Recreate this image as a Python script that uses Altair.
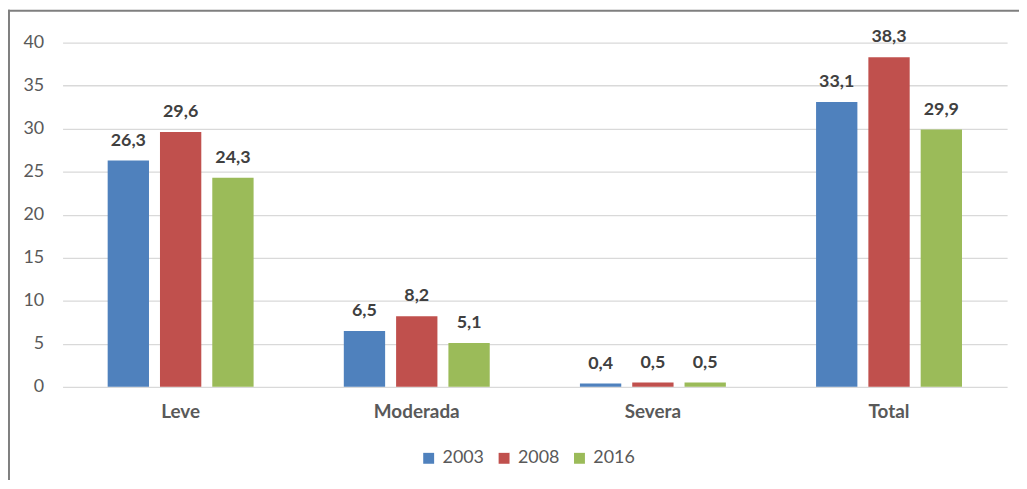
import altair as alt
import pandas as pd

categories = ["Leve", "Moderada", "Severa", "Total"]
years = ["2003", "2008", "2016"]
v2003 = [26.3, 6.5, 0.4, 33.1]
v2008 = [29.6, 8.2, 0.5, 38.3]
v2016 = [24.3, 5.1, 0.5, 29.9]
colors = ["#4F81BD", "#C0504D", "#9BBB59"]

rows = []
for yr, vals in zip(years, [v2003, v2008, v2016]):
    for c, v in zip(categories, vals):
        rows.append({"cat": c, "year": yr, "value": v,
                     "label": f"{v:.1f}".replace(".", ",")})
df = pd.DataFrame(rows)

W, H = 952, 347
FONT = "Lato"

base = alt.Chart(df).encode(
    x=alt.X("cat:N", sort=categories, title=None,
            scale=alt.Scale(paddingInner=0.382, paddingOuter=0.191),
            axis=alt.Axis(labelAngle=0, labelFontSize=19, labelFontWeight="bold",
                          labelColor="#595959", labelFont=FONT, labelPadding=16,
                          ticks=False, domain=False, grid=False)),
    xOffset=alt.XOffset("year:N", sort=years,
                        scale=alt.Scale(paddingInner=0.21, paddingOuter=0)),
    y=alt.Y("value:Q", title=None,
            scale=alt.Scale(domain=[0, 40], nice=False),
            axis=alt.Axis(values=[0, 5, 10, 15, 20, 25, 30, 35, 40], labelFontSize=18,
                          labelColor="#595959", labelFont=FONT, labelPadding=19,
                          ticks=False, domain=False, grid=True,
                          gridColor="#d9d9d9", gridWidth=1.3)),
)

bars = base.mark_bar().encode(
    color=alt.Color("year:N", sort=years,
                    scale=alt.Scale(domain=years, range=colors),
                    legend=alt.Legend(title=None, orient="none", direction="horizontal",
                                      legendX=360, legendY=410, symbolType="square",
                                      symbolSize=121, symbolStrokeWidth=0,
                                      labelFontSize=18, labelColor="#595959",
                                      labelFont=FONT, labelOffset=5, columnPadding=11))
)

text = base.mark_text(baseline="bottom", dy=-11, fontWeight="bold", fontSize=18,
                      color="#404040", font=FONT).encode(text="label:N")

frame_df = pd.DataFrame({"a": [0]})
left_line = alt.Chart(frame_df).mark_rule(color="#7f7f7f", strokeWidth=2).encode(
    x=alt.value(-54), y=alt.value(-33), y2=alt.value(H + 100))
top_line = alt.Chart(frame_df).mark_rule(color="#7f7f7f", strokeWidth=2).encode(
    x=alt.value(-55), x2=alt.value(W + 12), y=alt.value(-32))

chart = alt.layer(bars, text, left_line, top_line).properties(
    width=W, height=H,
    autosize=alt.AutoSizeParams(type="none"),
    padding={"left": 55, "top": 33, "right": 12, "bottom": 92},
).configure_view(stroke=None)

chart.save("out.html", embed_options={"renderer": "svg", "actions": False})
